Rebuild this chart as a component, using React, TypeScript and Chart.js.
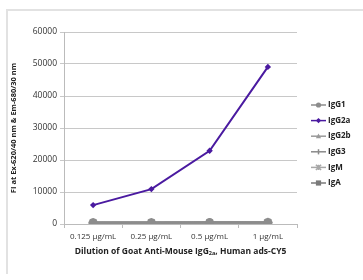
import React, { useEffect, useRef } from "react";
import { Chart, registerables } from "chart.js";

Chart.register(...registerables);

const categories = ["0.125 μg/mL", "0.25 μg/mL", "0.5 μg/mL", "1 μg/mL"];
const seriesNames = ["IgG1", "IgG2a", "IgG2b", "IgG3", "IgM", "IgA"];
const igG1 = [400, 420, 450, 480];
const igG2a = [5900, 10900, 22900, 49100];
const igG2b = [350, 380, 400, 430];
const igG3 = [300, 330, 360, 390];
const igM = [450, 470, 500, 520];
const igA = [380, 400, 420, 450];
const yTicks = [0, 10000, 20000, 30000, 40000, 50000, 60000];

const seriesValues = [igG1, igG2a, igG2b, igG3, igM, igA];
const seriesColors = ["#8c8c8c", "#4a1aa0", "#9a9a9a", "#8a8a8a", "#a8a8a8", "#7a7a7a"];
const seriesStyles = ["circle", "rectRot", "triangle", "line", "star", "rect"];

const FONT = "'Open Sans', 'Liberation Sans', sans-serif";

function drawMarker(ctx: CanvasRenderingContext2D, style: string, x: number, y: number, r: number, color: string) {
  ctx.save();
  ctx.fillStyle = color;
  ctx.strokeStyle = color;
  ctx.lineWidth = 1.5;
  ctx.beginPath();
  if (style === "circle") {
    ctx.arc(x, y, r, 0, Math.PI * 2);
    ctx.fill();
  } else if (style === "rectRot") {
    ctx.moveTo(x, y - r);
    ctx.lineTo(x + r, y);
    ctx.lineTo(x, y + r);
    ctx.lineTo(x - r, y);
    ctx.closePath();
    ctx.fill();
  } else if (style === "triangle") {
    ctx.moveTo(x, y - r);
    ctx.lineTo(x + r, y + r * 0.8);
    ctx.lineTo(x - r, y + r * 0.8);
    ctx.closePath();
    ctx.fill();
  } else if (style === "line") {
    ctx.moveTo(x, y - r);
    ctx.lineTo(x, y + r);
    ctx.stroke();
  } else if (style === "star") {
    ctx.moveTo(x - r, y - r);
    ctx.lineTo(x + r, y + r);
    ctx.moveTo(x + r, y - r);
    ctx.lineTo(x - r, y + r);
    ctx.moveTo(x, y - r);
    ctx.lineTo(x, y + r);
    ctx.stroke();
  } else {
    ctx.rect(x - r, y - r, 2 * r, 2 * r);
    ctx.fill();
  }
  ctx.restore();
}

const decorPlugin = {
  id: "decor",
  afterDraw(chart: any) {
    const ctx: CanvasRenderingContext2D = chart.ctx;
    const area = chart.chartArea;
    ctx.save();
    ctx.fillStyle = "#222";
    ctx.font = `bold 7.5px ${FONT}`;
    ctx.textAlign = "center";
    ctx.textBaseline = "middle";
    ctx.translate(14, (area.top + area.bottom) / 2);
    ctx.rotate(-Math.PI / 2);
    ctx.fillText("FI at Ex-620/40 nm & Em-680/30 nm", 0, 0);
    ctx.restore();

    ctx.save();
    ctx.fillStyle = "#222";
    ctx.textBaseline = "middle";
    ctx.textAlign = "left";
    const p1 = "Dilution of Goat Anti-Mouse IgG";
    const p2 = "2a";
    const p3 = ", Human ads-CY5";
    const big = `bold 8.5px ${FONT}`;
    const small = `bold 5.5px ${FONT}`;
    ctx.font = big;
    const w1 = ctx.measureText(p1).width;
    const w3 = ctx.measureText(p3).width;
    ctx.font = small;
    const w2 = ctx.measureText(p2).width;
    const total = w1 + w2 + w3;
    let x = (area.left + area.right) / 2 - total / 2;
    const y = 252;
    ctx.font = big;
    ctx.fillText(p1, x, y);
    x += w1;
    ctx.font = small;
    ctx.fillText(p2, x, y + 1.5);
    x += w2;
    ctx.font = big;
    ctx.fillText(p3, x, y);
    ctx.restore();

    ctx.save();
    chart.data.datasets.forEach((ds: any, i: number) => {
      const ly = 105 + i * 15.6;
      ctx.strokeStyle = ds.borderColor;
      ctx.lineWidth = 1.5;
      ctx.beginPath();
      ctx.moveTo(311, ly);
      ctx.lineTo(326, ly);
      ctx.stroke();
      drawMarker(ctx, ds.pointStyle, 318.5, ly, 2.6, ds.borderColor);
      ctx.fillStyle = "#222";
      ctx.font = `bold 8px ${FONT}`;
      ctx.textAlign = "left";
      ctx.textBaseline = "middle";
      ctx.fillText(ds.label, 328, ly);
    });
    ctx.restore();
  },
};

export default function App() {
  const ref = useRef<HTMLCanvasElement>(null);
  useEffect(() => {
    if (!ref.current) return;
    const chart = new Chart(ref.current, {
      type: "line",
      data: {
        labels: categories,
        datasets: seriesNames.map((name, i) => ({
          label: name,
          data: seriesValues[i],
          borderColor: seriesColors[i],
          backgroundColor: seriesColors[i],
          pointStyle: seriesStyles[i] as any,
          pointRadius: i === 1 ? 3.2 : 4.5,
          pointBorderWidth: i === 3 || i === 4 ? 1.5 : 0,
          borderWidth: i === 1 ? 2 : 2.5,
          tension: 0,
          order: i === 1 ? 0 : 1,
        })),
      },
      options: {
        animation: false,
        responsive: false,
        maintainAspectRatio: false,
        layout: { padding: { left: 0, right: 66, top: 32, bottom: 0 } },
        plugins: { legend: { display: false }, tooltip: { enabled: false } },
        scales: {
          x: {
            offset: true,
            grid: { display: true, drawOnChartArea: false, offset: true, tickLength: 4, color: "#bbb" },
            border: { color: "#bbb", width: 1 },
            ticks: { color: "#333", font: { family: FONT, size: 8 }, padding: 4, maxRotation: 0 },
            afterFit: (s: any) => { s.height = 56; },
          },
          y: {
            min: 0,
            max: 60000,
            afterBuildTicks: (s: any) => { s.ticks = yTicks.map((v) => ({ value: v })); },
            grid: { color: "#c8c8c8", tickLength: 4, lineWidth: 1 },
            border: { color: "#bbb", width: 1 },
            ticks: { color: "#333", font: { family: FONT, size: 8.5 }, padding: 3, callback: (v: any) => String(v) },
            afterFit: (s: any) => { s.width = 64; },
          },
        },
      },
      plugins: [decorPlugin],
    });
    return () => chart.destroy();
  }, []);
  return (
    <div style={{ position: "fixed", left: 0, top: 0, width: 363, height: 280, background: "#fff" }}>
      <div style={{ position: "absolute", left: 6, top: 9, width: 357, height: 263, borderTop: "2px solid #e2e2e2", borderLeft: "2px solid #e2e2e2" }} />
      <canvas ref={ref} width={363} height={280} style={{ position: "absolute", left: 0, top: 0 }} />
    </div>
  );
}
